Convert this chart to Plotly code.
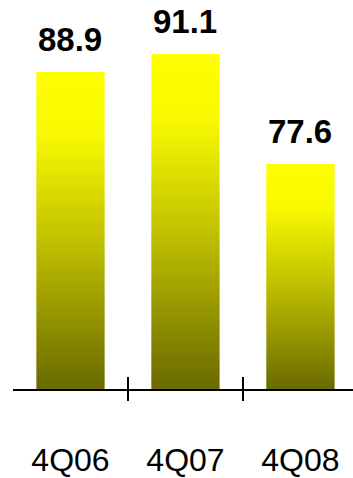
import plotly.graph_objects as go

categories = ["4Q06", "4Q07", "4Q08"]
values = [88.9, 91.1, 77.6]
y_base = 50
label_texts = ["88.9", "91.1", "77.6"]

BAR_HALF = 0.297
FONT = "Liberation Sans, Arial, sans-serif"
GRAD = [[0.0, "#6a6a00"], [0.45, "#bdbd00"], [0.8, "#f8f800"], [1.0, "#ffff00"]]

fig = go.Figure()

for i, (cat, v) in enumerate(zip(categories, values)):
    xs = [i - BAR_HALF, i + BAR_HALF, i + BAR_HALF, i - BAR_HALF, i - BAR_HALF]
    ys = [y_base, y_base, v, v, y_base]
    fig.add_trace(go.Scatter(
        x=xs, y=ys, mode="lines", fill="toself",
        line=dict(width=0, color="rgba(0,0,0,0)"),
        fillgradient=dict(type="vertical", colorscale=GRAD),
        name=cat, hoverinfo="skip", showlegend=False,
    ))
    fig.add_annotation(
        x=i, y=v, text="<b>%s</b>" % label_texts[i], showarrow=False,
        yanchor="bottom", yshift=12,
        font=dict(family=FONT, size=33, color="black"),
    )

# dummy traces so the overlay tick axes are drawn
fig.add_trace(go.Scatter(x=[None], y=[None], xaxis="x2", showlegend=False, hoverinfo="skip"))
fig.add_trace(go.Scatter(x=[None], y=[None], xaxis="x3", showlegend=False, hoverinfo="skip"))

xr = [-0.5, 2.457]
boundaries = [0.5, 1.5]

fig.update_layout(
    width=353, height=478,
    margin=dict(l=13, r=0, t=0, b=89),
    paper_bgcolor="white", plot_bgcolor="white",
    template="none",
    showlegend=False,
    xaxis=dict(
        type="linear", range=xr, tickvals=list(range(len(categories))), ticktext=categories,
        ticks="", showline=True, linecolor="black", linewidth=2,
        showgrid=False, zeroline=False, automargin=False,
        tickfont=dict(family=FONT, size=32, color="black"),
        ticklabelstandoff=42, fixedrange=True,
    ),
    xaxis2=dict(
        overlaying="x", anchor="y", side="bottom", type="linear", range=xr,
        tickvals=boundaries, ticks="outside", ticklen=11, tickwidth=2, tickcolor="black",
        showticklabels=False, showline=False, showgrid=False, zeroline=False,
        automargin=False, fixedrange=True,
    ),
    xaxis3=dict(
        overlaying="x", anchor="y", side="bottom", type="linear", range=xr,
        tickvals=boundaries, ticks="inside", ticklen=12, tickwidth=2, tickcolor="black",
        showticklabels=False, showline=False, showgrid=False, zeroline=False,
        automargin=False, fixedrange=True,
    ),
    yaxis=dict(
        range=[y_base, 97.73], visible=False, showgrid=False, zeroline=False,
        automargin=False, fixedrange=True,
    ),
)

fig.write_html("out.html", config={"displayModeBar": False})
